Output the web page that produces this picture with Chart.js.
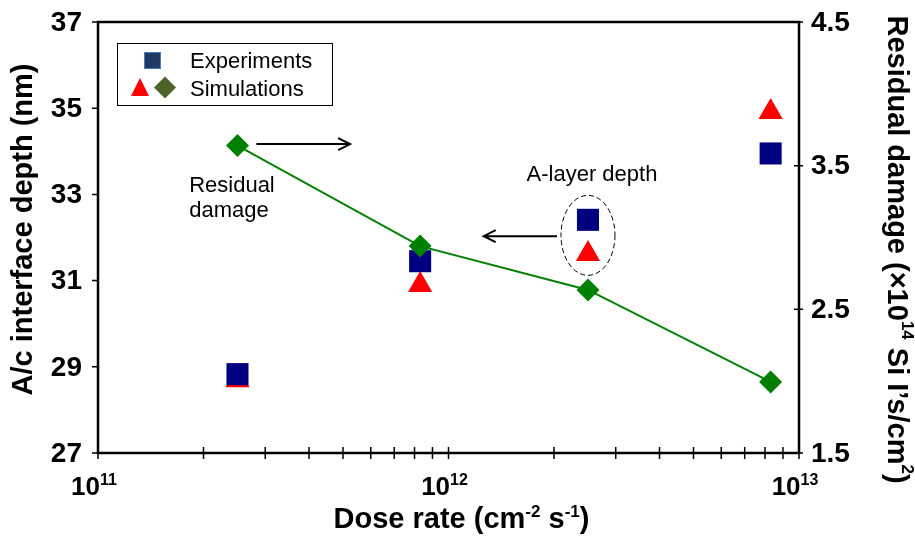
<!DOCTYPE html>
<html>
<head>
<meta charset="utf-8">
<script src="https://cdn.jsdelivr.net/npm/chart.js@4/dist/chart.umd.min.js"></script>
<style>
  html, body { margin: 0; padding: 0; background: #fff; }
  canvas { display: block; }
</style>
</head>
<body>
<canvas id="chart" width="915" height="536"></canvas>
<script>
// --- DATA ---
const doseRate = [2.5e11, 8.3e11, 2.5e12, 8.3e12];        // cm^-2 s^-1
const expDepth = [28.83, 31.45, 32.41, 33.95];            // nm, measured
const simDepth = [28.69, 30.90, 31.62, 34.91];            // nm, simulated
const simDamage = [3.64, 2.94, 2.635, 1.995];             // x1e14 Si I's/cm^2

const depthTicks = [27, 29, 31, 33, 35, 37];
const damageTicks = [1.5, 2.5, 3.5, 4.5];
const doseMajor = [1e11, 1e12, 1e13];
const doseExp = ['11', '12', '13'];

// annotation anchors, in data units
const damageArrow = { from: 2.83e11, to: 5.24e11, y: 3.65 };   // right axis
const depthArrow = { from: 2.04e12, to: 1.26e12, y: 32.03 };   // left axis
const depthRing = { x: 2.5e12, y: 32.05, rx: 27, ry: 40 };
const FONT = "'Liberation Sans', Arial, sans-serif";

// --- HELPERS ---
function richWidth(ctx, parts, size) {
  let w = 0;
  parts.forEach(([t, sup]) => {
    ctx.font = `bold ${sup ? Math.round(size * 0.6) : size}px ${FONT}`;
    w += ctx.measureText(t).width;
  });
  return w;
}

// text with superscript runs, centred on x
function drawRich(ctx, parts, x, y, size) {
  let cx = x - richWidth(ctx, parts, size) / 2;
  parts.forEach(([t, sup]) => {
    ctx.font = `bold ${sup ? Math.round(size * 0.6) : size}px ${FONT}`;
    ctx.fillText(t, cx, sup ? y - size * 0.38 : y);
    cx += ctx.measureText(t).width;
  });
}

function arrow(ctx, x1, y1, x2, y2) {
  const dir = Math.sign(x2 - x1);
  ctx.beginPath();
  ctx.moveTo(x1, y1);
  ctx.lineTo(x2, y2);
  ctx.moveTo(x2 - dir * 12, y2 - 6);
  ctx.lineTo(x2, y2);
  ctx.lineTo(x2 - dir * 12, y2 + 6);
  ctx.stroke();
}

const decorations = {
  id: 'decorations',
  afterDraw(chart) {
    const { ctx, chartArea: a, scales } = chart;
    const sx = scales.x, sy = scales.y, sy2 = scales.y2;
    ctx.save();
    ctx.strokeStyle = '#000';
    ctx.fillStyle = '#000';

    // frame
    ctx.lineWidth = 2.5;
    ctx.strokeRect(a.left, a.top, a.right - a.left, a.bottom - a.top);

    // tick marks
    ctx.lineWidth = 1.5;
    ctx.beginPath();
    depthTicks.forEach(v => {
      const y = sy.getPixelForValue(v);
      ctx.moveTo(a.left - 6, y); ctx.lineTo(a.left, y);
    });
    damageTicks.forEach(v => {
      const y = sy2.getPixelForValue(v);
      ctx.moveTo(a.right - 5, y); ctx.lineTo(a.right + 4, y);
    });
    for (let e = 11; e < 13; e++) {
      for (let m = 1; m <= 9; m++) {
        const x = sx.getPixelForValue(m * Math.pow(10, e));
        ctx.moveTo(x, a.bottom - 6); ctx.lineTo(x, a.bottom + 6);
      }
    }
    ctx.moveTo(a.right, a.bottom); ctx.lineTo(a.right, a.bottom + 6);
    ctx.stroke();

    // tick labels
    ctx.textBaseline = 'middle';
    ctx.font = `bold 28px ${FONT}`;
    ctx.textAlign = 'right';
    depthTicks.forEach(v => ctx.fillText(String(v), a.left - 16, sy.getPixelForValue(v) + 1));
    ctx.textAlign = 'left';
    damageTicks.forEach(v => ctx.fillText(v.toFixed(1), a.right + 12, sy2.getPixelForValue(v) + 1));

    ctx.textBaseline = 'alphabetic';
    ctx.textAlign = 'left';
    doseMajor.forEach((v, i) => {
      drawRich(ctx, [['10', false], [doseExp[i], true]], sx.getPixelForValue(v) - 4, a.bottom + 42, 26);
    });

    // axis titles
    drawRich(ctx, [['Dose rate (cm', false], ['-2', true], [' s', false], ['-1', true], [')', false]],
      (a.left + a.right) / 2 + 13, a.bottom + 75, 29);

    ctx.save();
    ctx.translate(24, (a.top + a.bottom) / 2 - 8);
    ctx.rotate(-Math.PI / 2);
    ctx.textBaseline = 'middle';
    drawRich(ctx, [['A/c interface depth (nm)', false]], 0, 0, 29);
    ctx.restore();

    ctx.save();
    ctx.translate(896, (a.top + a.bottom) / 2 + 12);
    ctx.rotate(Math.PI / 2);
    ctx.textBaseline = 'middle';
    drawRich(ctx, [['Residual damage (\u00d710', false], ['14', true], [' Si I\u2019s/cm', false], ['2', true], [')', false]], 0, 0, 29);
    ctx.restore();

    // annotations
    ctx.lineWidth = 2;
    let y = sy2.getPixelForValue(damageArrow.y);
    arrow(ctx, sx.getPixelForValue(damageArrow.from), y, sx.getPixelForValue(damageArrow.to), y);
    y = sy.getPixelForValue(depthArrow.y);
    arrow(ctx, sx.getPixelForValue(depthArrow.from), y, sx.getPixelForValue(depthArrow.to), y);

    ctx.lineWidth = 1;
    ctx.setLineDash([5, 3]);
    ctx.beginPath();
    ctx.ellipse(sx.getPixelForValue(depthRing.x), sy.getPixelForValue(depthRing.y), depthRing.rx, depthRing.ry, 0, 0, Math.PI * 2);
    ctx.stroke();
    ctx.setLineDash([]);

    ctx.font = `22px ${FONT}`;
    ctx.textAlign = 'left';
    const rx = sx.getPixelForValue(1.82e11), ry = sy2.getPixelForValue(3.32);
    ctx.fillText('Residual', rx, ry);
    ctx.fillText('damage', rx, ry + 25);
    ctx.textAlign = 'center';
    ctx.fillText('A-layer depth', sx.getPixelForValue(2.5e12) + 4, sy.getPixelForValue(33.3));

    // legend
    const lx = a.left + 19, ly = a.top + 21;
    ctx.lineWidth = 1;
    ctx.strokeRect(lx + 0.5, ly + 0.5, 215, 62);
    ctx.fillStyle = '#1f3a60';
    ctx.strokeStyle = '#4a7ebb';
    ctx.fillRect(lx + 27, ly + 9, 17, 17);
    ctx.strokeRect(lx + 27.5, ly + 9.5, 16, 16);
    ctx.fillStyle = '#ff0000';
    ctx.beginPath();
    ctx.moveTo(lx + 23, ly + 35); ctx.lineTo(lx + 32, ly + 53); ctx.lineTo(lx + 14, ly + 53);
    ctx.closePath(); ctx.fill();
    ctx.fillStyle = '#4f6228';
    ctx.beginPath();
    ctx.moveTo(lx + 48, ly + 33.5); ctx.lineTo(lx + 59, ly + 44.5); ctx.lineTo(lx + 48, ly + 55.5); ctx.lineTo(lx + 37, ly + 44.5);
    ctx.closePath(); ctx.fill();
    ctx.fillStyle = '#000';
    ctx.textAlign = 'left';
    ctx.fillText('Experiments', lx + 73, ly + 25);
    ctx.fillText('Simulations', lx + 73, ly + 53);
    ctx.restore();
  }
};

new Chart(document.getElementById('chart'), {
  type: 'scatter',
  data: {
    datasets: [
      {
        label: 'Residual damage',
        data: doseRate.map((x, i) => ({ x, y: simDamage[i] })),
        yAxisID: 'y2',
        showLine: true,
        borderColor: '#008000',
        borderWidth: 2,
        pointStyle: 'rectRot',
        pointRadius: 11.5,
        pointBackgroundColor: '#008000',
        pointBorderWidth: 0
      },
      {
        label: 'Experiments',
        data: doseRate.map((x, i) => ({ x, y: expDepth[i] })),
        yAxisID: 'y',
        pointStyle: 'rect',
        pointRadius: 15.6,
        pointBackgroundColor: '#000080',
        pointBorderWidth: 0
      },
      {
        label: 'Simulations',
        data: doseRate.map((x, i) => ({ x, y: simDepth[i] })),
        yAxisID: 'y',
        pointStyle: 'triangle',
        pointRadius: 14,
        pointBackgroundColor: '#ff0000',
        pointBorderWidth: 0
      }
    ]
  },
  options: {
    responsive: false,
    animation: false,
    layout: { padding: { left: 98, top: 22, right: 116, bottom: 83 } },
    plugins: { legend: { display: false }, tooltip: { enabled: false } },
    scales: {
      x: { type: 'logarithmic', min: 1e11, max: 1e13, display: false },
      y: { min: 27, max: 37, display: false },
      y2: { min: 1.5, max: 4.5, position: 'right', display: false }
    }
  },
  plugins: [decorations]
});
</script>
</body>
</html>
